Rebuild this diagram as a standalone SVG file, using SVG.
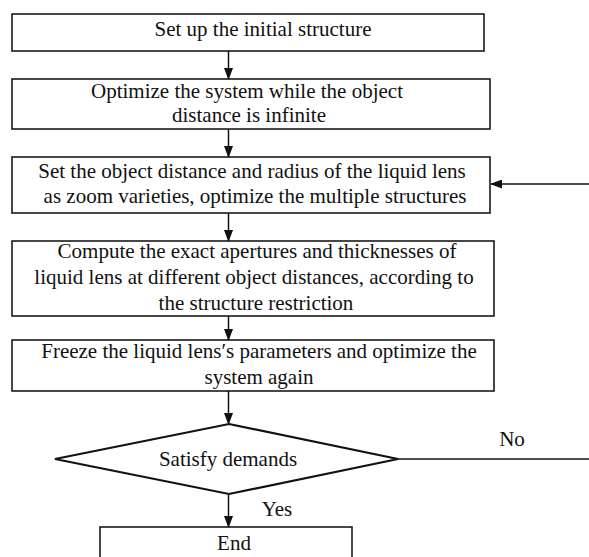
<svg xmlns="http://www.w3.org/2000/svg" width="589" height="557" viewBox="0 0 589 557">
<style>
.box{fill:#fff;stroke:#1a1a1a;stroke-width:1.6}
.dia{fill:#fff;stroke:#111;stroke-width:2.2}
.t{font-family:"Liberation Serif","Times New Roman",serif;font-size:21px;fill:#111;text-anchor:middle}
.c{stroke:#111;stroke-width:1.5;fill:none}
</style>
<defs>
<marker id="ah" markerWidth="12" markerHeight="9" refX="11" refY="4.5" orient="auto" markerUnits="userSpaceOnUse">
<path d="M0,0 L12,4.5 L0,9 Z" fill="#111"/>
</marker>
</defs>
<rect width="589" height="557" fill="#fff"/>
<g id="n1"><rect class="box" x="12" y="14" width="472" height="37"/><text class="t" x="263" y="36">Set up the initial structure</text></g>
<g id="n2"><rect class="box" x="12" y="79" width="478" height="50"/><text class="t" x="247" y="98">Optimize the system while the object</text><text class="t" x="249" y="122">distance is infinite</text></g>
<g id="n3"><rect class="box" x="12" y="157" width="478" height="56"/><text class="t" x="252" y="178">Set the object distance and radius of the liquid lens</text><text class="t" x="255" y="203">as zoom varieties, optimize the multiple structures</text></g>
<g id="n4"><rect class="box" x="12" y="241" width="482" height="75"/><text class="t" x="257" y="258">Compute the exact apertures and thicknesses of</text><text class="t" x="254" y="284">liquid lens at different object distances, according to</text><text class="t" x="256" y="310">the structure restriction</text></g>
<g id="n5"><rect class="box" x="12" y="340" width="482" height="51"/><text class="t" x="259" y="358">Freeze the liquid lens′s parameters and optimize the</text><text class="t" x="259" y="384">system again</text></g>
<g id="n6"><polygon class="dia" points="229,424 398,459 229,494 55,459"/><text class="t" x="228" y="466">Satisfy demands</text></g>
<g id="n7"><rect class="box" x="100" y="527" width="252" height="45"/><text class="t" x="234" y="550">End</text></g>
<g id="connectors">
<line class="c" x1="228.5" y1="51" x2="228.5" y2="79" marker-end="url(#ah)"/>
<line class="c" x1="228.5" y1="129" x2="228.5" y2="157" marker-end="url(#ah)"/>
<line class="c" x1="228.5" y1="213" x2="228.5" y2="241" marker-end="url(#ah)"/>
<line class="c" x1="228.5" y1="316" x2="228.5" y2="340" marker-end="url(#ah)"/>
<line class="c" x1="228.5" y1="391" x2="228.5" y2="424" marker-end="url(#ah)"/>
<line class="c" x1="228.5" y1="494" x2="228.5" y2="527" marker-end="url(#ah)"/>
<line class="c" x1="398" y1="459" x2="589" y2="459" stroke-width="2"/>
<line class="c" x1="589" y1="184" x2="491" y2="184" marker-end="url(#ah)"/>
<text class="t" x="512" y="446">No</text>
<text class="t" x="277" y="516">Yes</text>
</g>
</svg>
